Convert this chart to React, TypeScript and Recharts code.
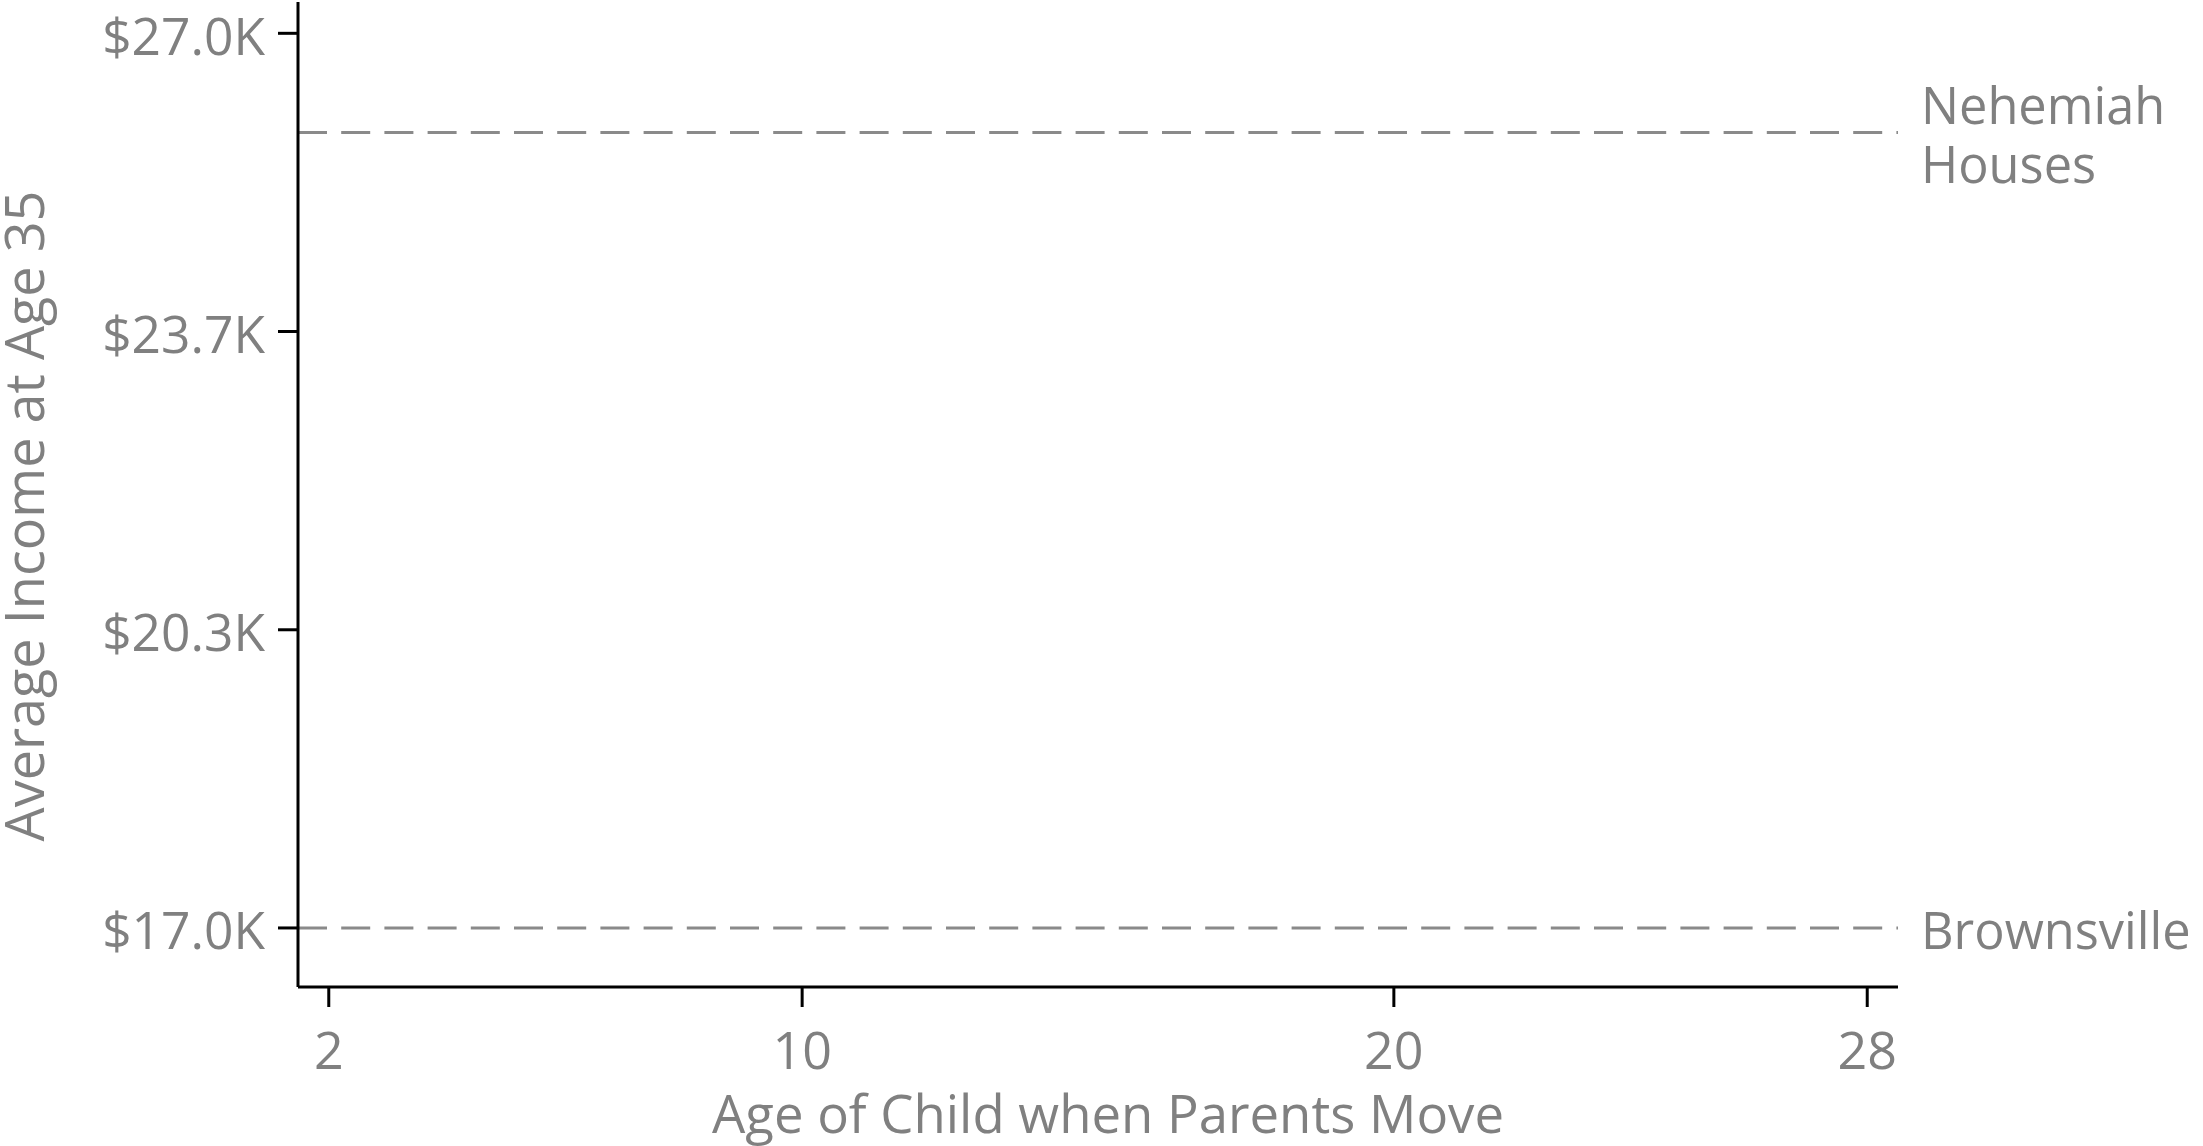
import React from 'react';
import { LineChart, XAxis, YAxis, ReferenceLine } from 'recharts';

// ---- data ----
const ages = [2, 10, 20, 28];
const incomeTicks = [17.0, 20.333, 23.667, 27.0];
const neighborhoods = ['Nehemiah Houses', 'Brownsville'];
const neighborhoodLabelLines = [['Nehemiah', 'Houses'], ['Brownsville']];
const neighborhoodIncomes = [25.89, 17.0];
const xDomain = [1.48, 28.52];
const yDomain = [16.34, 27.35];
const xTitle = 'Age of Child when Parents Move';
const yTitle = 'Average Income at Age 35';

const chartData = ages.map((a) => ({ age: a }));

const FONT = "'Open Sans', sans-serif";
const TEXT = '#808080';
const DASH = '#8a8a8a';

const makeAnnot = (lines: string[]) => (props: any) => {
  const vb = props.viewBox || {};
  const x = (vb.x ?? 0) + (vb.width ?? 0) + 23;
  const y = (vb.y ?? 0) + (vb.height ?? 0) / 2;
  const lh = 59;
  const first = y + 21 - ((lines.length - 1) * lh) / 2;
  return (
    <g>
      {lines.map((l, i) => (
        <text
          key={i}
          x={x}
          y={first + i * lh}
          fill={TEXT}
          fontSize={50.5}
          fontFamily={FONT}
          textAnchor="start"
        >
          {l}
        </text>
      ))}
    </g>
  );
};

const XTitle = (props: any) => {
  const vb = props.viewBox || {};
  const x = (vb.x ?? 0) + (vb.width ?? 0) / 2 + 10;
  const y = (vb.y ?? 0) + 146;
  return (
    <text x={x} y={y} fill={TEXT} fontSize={52.7} fontFamily={FONT} textAnchor="middle">
      {xTitle}
    </text>
  );
};

const YTitle = (props: any) => {
  const vb = props.viewBox || {};
  const x = (vb.x ?? 0) + 44;
  const y = (vb.y ?? 0) + 514;
  return (
    <text
      x={x}
      y={y}
      fill={TEXT}
      fontSize={54}
      fontFamily={FONT}
      textAnchor="middle"
      transform={`rotate(-90 ${x} ${y})`}
    >
      {yTitle}
    </text>
  );
};

export default function App() {
  return (
    <div style={{ width: 2203, height: 1146, background: '#fff' }}>
      <style>{`body{margin:0;background:#fff;}`}</style>
      <LineChart
        width={2203}
        height={1146}
        data={chartData}
        margin={{ top: 2, right: 305, bottom: 0, left: 0 }}
      >
        <XAxis
          dataKey="age"
          type="number"
          domain={xDomain}
          ticks={ages}
          allowDataOverflow
          height={159}
          axisLine={{ stroke: '#000', strokeWidth: 3 }}
          tickLine={{ stroke: '#000', strokeWidth: 3 }}
          tickSize={20}
          tickMargin={25}
          tick={{ fill: TEXT, fontSize: 52, fontFamily: FONT }}
          label={{ content: XTitle }}
        />
        <YAxis
          type="number"
          domain={yDomain}
          ticks={incomeTicks}
          allowDataOverflow
          width={298}
          axisLine={{ stroke: '#000', strokeWidth: 3 }}
          tickLine={{ stroke: '#000', strokeWidth: 3 }}
          tickSize={20}
          tickMargin={13}
          tick={{ fill: TEXT, fontSize: 51.5, fontFamily: FONT, dy: 3 }}
          tickFormatter={(v: number) => `$${v.toFixed(1)}K`}
          label={{ content: YTitle }}
        />
        {neighborhoods.map((n, i) => (
          <ReferenceLine
            key={n}
            y={neighborhoodIncomes[i]}
            stroke={DASH}
            strokeWidth={3}
            strokeDasharray="29 14.2"
            label={makeAnnot(neighborhoodLabelLines[i])}
          />
        ))}
      </LineChart>
    </div>
  );
}
